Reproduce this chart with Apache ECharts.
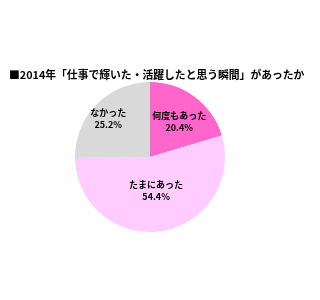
<!DOCTYPE html>
<html><head><meta charset="utf-8">
<script src="https://cdn.jsdelivr.net/npm/echarts@6/dist/echarts.min.js"></script>
<style>html,body{margin:0;padding:0;background:#fff}#c{width:320px;height:300px}</style>
</head><body><div id="c"></div>
<script>
const titleText = '■2014年「仕事で輝いた・活躍したと思う瞬間」があったか';
const categories = ['何度もあった', 'たまにあった', 'なかった'];
const values = [20.4, 54.4, 25.2];
const colors = ['#FF66CC', '#FFCCFF', '#D9D9D9'];
const labelOffsets = [[5, -3], [0, -6], [-13, -10]];
const chart = echarts.init(document.getElementById('c'));
chart.setOption({
  animation: false,
  title: {
    text: titleText, left: 4, top: 65,
    textStyle: {fontFamily: 'Noto Sans CJK JP', fontSize: 10.8, fontWeight: 'bold', color: '#000'}
  },
  series: [{
    type: 'pie', center: [150, 157], radius: 75, startAngle: 90, clockwise: true,
    label: {
      position: 'inside', formatter: '{b}\n{c}%', color: '#000',
      fontFamily: 'Noto Sans CJK JP', fontSize: 9, fontWeight: 'bold', lineHeight: 12
    },
    labelLine: {show: false},
    emphasis: {disabled: true},
    data: categories.map((n, i) => ({name: n, value: values[i], itemStyle: {color: colors[i]}, label: {offset: labelOffsets[i]}}))
  }]
});
</script></body></html>
